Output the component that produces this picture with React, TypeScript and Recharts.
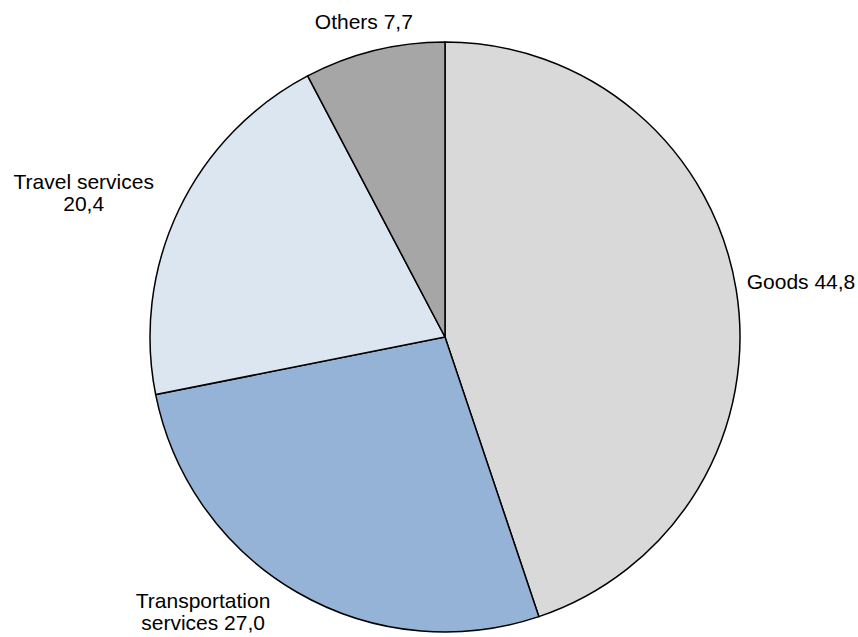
import { PieChart, Pie, Cell } from "recharts";

const categories = ["Goods", "Transportation services", "Travel services", "Others"];
const shares = [44.8, 27.0, 20.4, 7.7];
const labelLines = [
  ["Goods 44,8"],
  ["Transportation", "services 27,0"],
  ["Travel services", "20,4"],
  ["Others 7,7"],
];

const COLORS = ["#d9d9d9", "#95b3d7", "#dce6f1", "#a6a6a6"];
// nudges from the slice edge to the text centre, like Excel's best-fit labels
const LABEL_NUDGE: [number, number][] = [
  [55, -7],
  [-89, 10],
  [-86, -14],
  [-8, -20],
];

const data = categories.map((name, i) => ({ name, value: shares[i] }));

const RAD = Math.PI / 180;

function renderLabel(props: any) {
  const { cx, cy, midAngle, outerRadius, index } = props;
  const r = outerRadius + 10;
  const x = cx + r * Math.cos(-midAngle * RAD) + LABEL_NUDGE[index][0];
  const y = cy + r * Math.sin(-midAngle * RAD) + LABEL_NUDGE[index][1];
  const lines = labelLines[index];
  const lh = 22;
  const top = y - ((lines.length - 1) * lh) / 2;
  return (
    <text
      x={x}
      y={top}
      textAnchor="middle"
      dominantBaseline="central"
      fontFamily="Liberation Sans, Arial, sans-serif"
      fontSize={21}
      fill="#000"
    >
      {lines.map((l, k) => (
        <tspan key={k} x={x} y={top + k * lh}>
          {l}
        </tspan>
      ))}
    </text>
  );
}

export default function App() {
  return (
    <div style={{ position: "absolute", left: 0, top: 0, width: 858, height: 637, background: "#fff" }}>
      <PieChart width={858} height={637} margin={{ top: 0, right: 0, bottom: 0, left: 0 }}>
        <Pie
          data={data}
          dataKey="value"
          nameKey="name"
          cx={445}
          cy={337}
          outerRadius={295}
          startAngle={90}
          endAngle={-270}
          stroke="#000"
          strokeWidth={1.5}
          label={renderLabel}
          labelLine={false}
          isAnimationActive={false}
        >
          {data.map((_, i) => (
            <Cell key={i} fill={COLORS[i]} />
          ))}
        </Pie>
      </PieChart>
    </div>
  );
}
